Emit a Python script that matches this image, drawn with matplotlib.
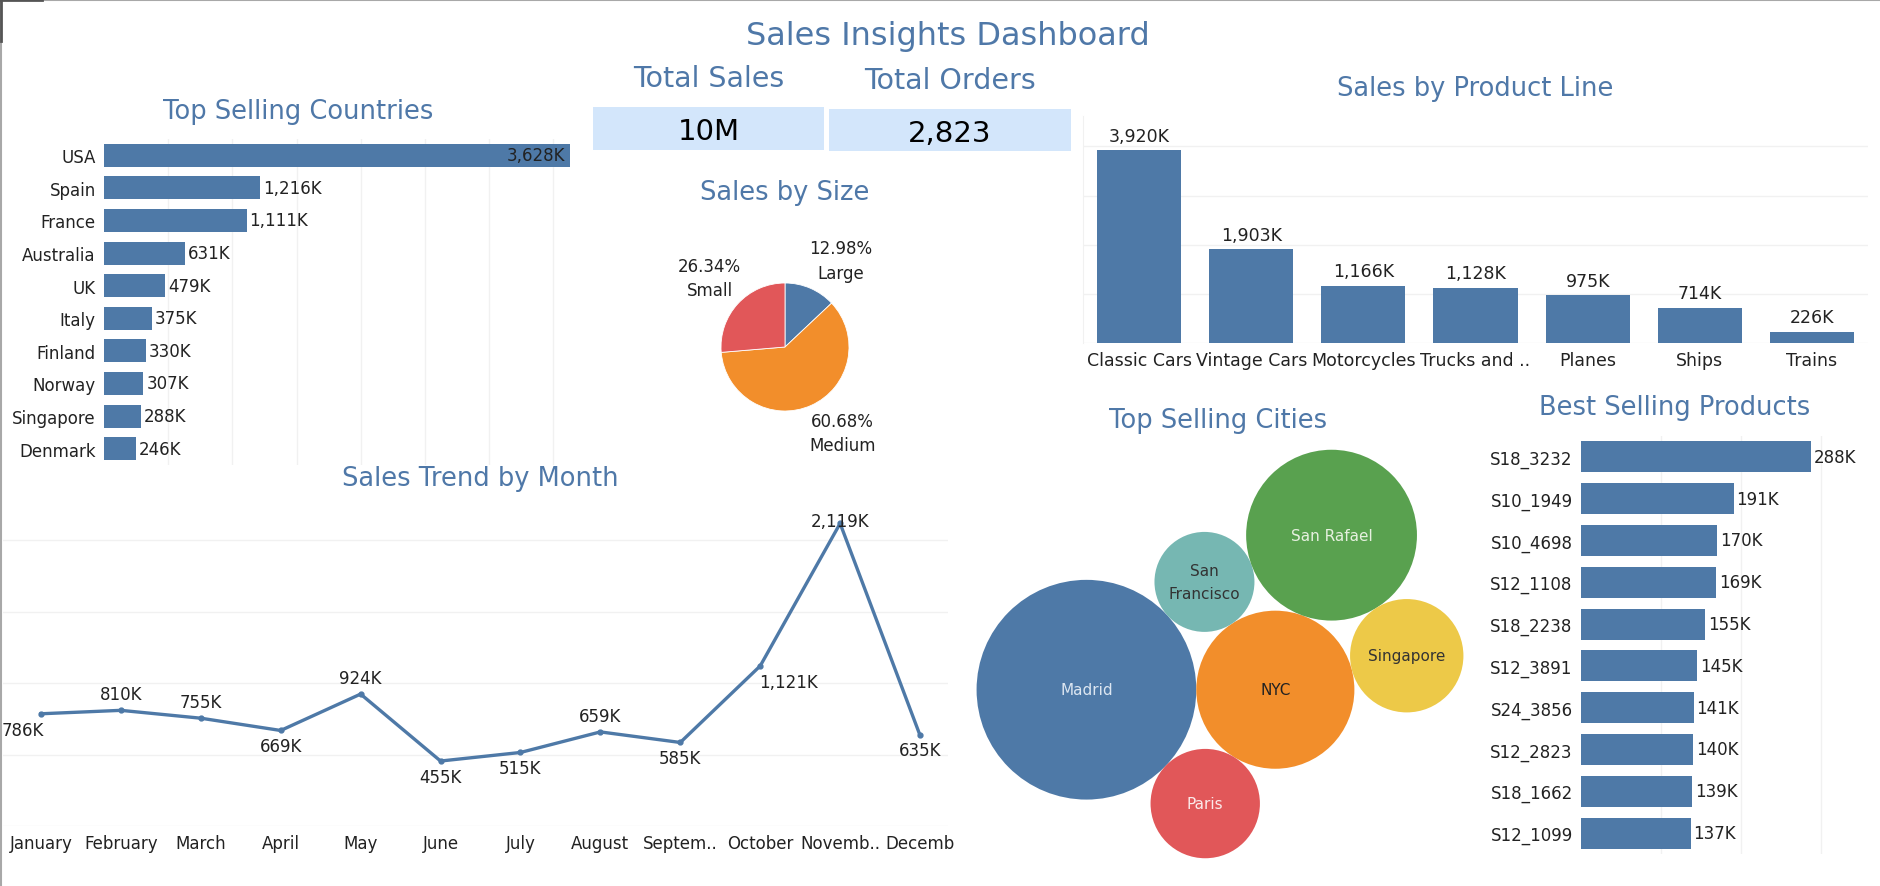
import numpy as np
import matplotlib
matplotlib.use('Agg')
import matplotlib.pyplot as plt
from matplotlib.patches import Circle, Rectangle
from matplotlib.lines import Line2D

# ---- data (sales in K) ----
countries = ['USA', 'Spain', 'France', 'Australia', 'UK', 'Italy',
             'Finland', 'Norway', 'Singapore', 'Denmark']
country_sales = [3628, 1216, 1111, 631, 479, 375, 330, 307, 288, 246]

size_names = ['Large', 'Medium', 'Small']
size_pct = [12.98, 60.68, 26.34]

product_lines = ['Classic Cars', 'Vintage Cars', 'Motorcycles', 'Trucks and ..',
                 'Planes', 'Ships', 'Trains']
product_line_sales = [3920, 1903, 1166, 1128, 975, 714, 226]

months = ['January', 'February', 'March', 'April', 'May', 'June', 'July',
          'August', 'Septem..', 'October', 'Novemb..', 'Decemb']
month_sales = [786, 810, 755, 669, 924, 455, 515, 659, 585, 1121, 2119, 635]

cities = ['Madrid', 'NYC', 'San\nFrancisco', 'San Rafael', 'Singapore', 'Paris']
city_sales = [1082, 560, 224, 654, 288, 268]

products = ['S18_3232', 'S10_1949', 'S10_4698', 'S12_1108', 'S18_2238',
            'S12_3891', 'S24_3856', 'S12_2823', 'S18_1662', 'S12_1099']
product_sales = [288, 191, 170, 169, 155, 145, 141, 140, 139, 137]

total_sales = '10M'
total_orders = 2823

# ---- style ----
W, H = 1881, 887
plt.rcParams['font.family'] = ['DejaVu Sans']
BLUE = '#4e79a7'
TITLE = '#4f78a8'
GRID = '#f1f1f1'
TXT = '#222222'

fig = plt.figure(figsize=(W / 100, H / 100), dpi=100)
fig.patch.set_facecolor('white')


def px_axes(x0, y0, x1, y1):
    # pixel box (top-left origin) -> figure axes
    return fig.add_axes([x0 / W, 1 - y1 / H, (x1 - x0) / W, (y1 - y0) / H])


def fig_text(x, y, s, **kw):
    kw.setdefault('ha', 'center')
    kw.setdefault('va', 'center')
    return fig.text(x / W, 1 - y / H, s, **kw)


def kfmt(v):
    return f"{v:,}K"


def clean(ax):
    for s in ax.spines.values():
        s.set_visible(False)
    ax.tick_params(length=0)


# frame lines at top / left
fig.add_artist(Line2D([0, 1], [1 - 1 / H, 1 - 1 / H], color='#a8a8a8', lw=1.5))
fig.add_artist(Line2D([1 / W, 1 / W], [0, 1], color='#a8a8a8', lw=1.5))
fig.add_artist(Line2D([0, 42 / W], [1 - 1 / H, 1 - 1 / H], color='#555555', lw=2))
fig.add_artist(Line2D([1 / W, 1 / W], [1, 1 - 42 / H], color='#555555', lw=2))

# ---- titles ----
fig_text(948, 37, 'Sales Insights Dashboard', fontsize=23, color=TITLE)
fig_text(298, 112, 'Top Selling Countries', fontsize=18.5, color=TITLE)
fig_text(709, 79, 'Total Sales', fontsize=20.5, color=TITLE)
fig_text(950, 81, 'Total Orders', fontsize=20.5, color=TITLE)
fig_text(785, 193, 'Sales by Size', fontsize=18.5, color=TITLE)
fig_text(1475, 89, 'Sales by Product Line', fontsize=18.5, color=TITLE)
fig_text(480, 479, 'Sales Trend by Month', fontsize=18.5, color=TITLE)
fig_text(1218, 421, 'Top Selling Cities', fontsize=18.5, color=TITLE)
fig_text(1675, 408, 'Best Selling Products', fontsize=18.5, color=TITLE)

# ---- KPI boxes ----
for (x0, y0, x1, y1), val in [((593, 108, 824, 151), total_sales),
                              ((829, 110, 1071, 152), f"{total_orders:,}")]:
    fig.add_artist(Rectangle((x0 / W, 1 - y1 / H), (x1 - x0) / W, (y1 - y0) / H,
                             transform=fig.transFigure, facecolor='#d3e6fb',
                             edgecolor='none'))
    fig_text((x0 + x1) / 2, (y0 + y1) / 2 + 3, val, fontsize=21, color='black')

# ---- Top Selling Countries ----
ax = px_axes(104, 140, 579, 466)
y = np.arange(len(countries))
ax.barh(y, country_sales, height=0.71, color=BLUE, zorder=2)
ax.set_xlim(0, 3700)
ax.set_ylim(len(countries) - 0.5, -0.5)
ax.set_yticks(y)
ax.set_yticklabels(countries, fontsize=12, color=TXT)
ax.set_xticks(np.arange(500, 3700, 500))
ax.xaxis.grid(True, color=GRID, lw=1, zorder=0)
ax.set_xticklabels([])
clean(ax)
ax.tick_params(axis='y', pad=6)
for yi, v in zip(y, country_sales):
    if v > 0.85 * 3700:
        ax.annotate(kfmt(v), (v, yi), xytext=(-3, 0), textcoords='offset points',
                    ha='right', va='center', fontsize=12, color=TXT, zorder=3)
    else:
        ax.annotate(kfmt(v), (v, yi), xytext=(2, 0), textcoords='offset points',
                    ha='left', va='center', fontsize=12, color=TXT)

# ---- Sales by Size (pie) ----
ax = px_axes(705, 268, 865, 428)
labels = [f"{p:.2f}%\n{n}" for p, n in zip(size_pct, size_names)]
wedges, texts = ax.pie(size_pct, labels=labels, startangle=90, counterclock=False,
                       colors=[BLUE, '#f28e2b', '#e15759'], labeldistance=1.6,
                       wedgeprops=dict(linewidth=0.6, edgecolor='white'),
                       textprops=dict(ha='center', va='center', fontsize=12,
                                      color=TXT, linespacing=1.45))
for t in texts:
    tx, ty = t.get_position()
    if abs(tx) < 0.8:  # labels near the vertical get pushed sideways
        t.set_position((tx * 1.38, ty * 0.92))

# ---- Sales by Product Line ----
ax = px_axes(1083, 117, 1868, 344)
x = np.arange(len(product_lines))
ax.bar(x, product_line_sales, width=0.75, color=BLUE, zorder=2)
ax.set_xlim(-0.5, len(product_lines) - 0.5)
ax.set_ylim(0, 4620)
ax.set_yticks(np.arange(0, 4001, 1000))
ax.set_yticklabels([])
ax.yaxis.grid(True, color=GRID, lw=1, zorder=0)
ax.set_xticks(x)
ax.set_xticklabels(product_lines, fontsize=12.5, color=TXT)
clean(ax)
ax.spines['left'].set_visible(True)
ax.spines['left'].set_color(GRID)
ax.tick_params(axis='x', pad=6)
for xi, v in zip(x, product_line_sales):
    ax.annotate(kfmt(v), (xi, v), xytext=(0, 4), textcoords='offset points',
                ha='center', va='bottom', fontsize=12.5, color=TXT)

# ---- Sales Trend by Month ----
ax = px_axes(2.6, 498.6, 948, 827)
x = np.arange(len(months))
ax.plot(x, month_sales, color=BLUE, lw=2.4, marker='o', markersize=3.5,
        zorder=3, clip_on=False)
ax.set_xlim(-0.48, 11.35)
ax.set_ylim(0, 2300)
ax.set_yticks(np.arange(0, 2001, 500))
ax.set_yticklabels([])
ax.yaxis.grid(True, color=GRID, lw=1, zorder=0)
ax.set_xticks(x)
ax.set_xticklabels(months, fontsize=12, color=TXT)
clean(ax)
ax.tick_params(axis='x', pad=5.5)
# label offsets in pixels (dx, dy up)
month_offsets = [(-18, -16), (0, 16), (0, 16), (0, -16), (0, 16), (0, -16),
                 (0, -16), (0, 16), (0, -16), (28, -16), (0, 2), (0, -15)]
for xi, v, (dx, dy) in zip(x, month_sales, month_offsets):
    ax.annotate(kfmt(v), (xi, v), xytext=(dx * 0.72, dy * 0.72),
                textcoords='offset points', ha='center', va='center',
                fontsize=12, color=TXT, zorder=4)

# ---- Top Selling Cities (packed bubbles) ----
ax = px_axes(960, 440, 1480, 870)
radii = np.sqrt(city_sales)
city_colors = [BLUE, '#f28e2b', '#76b7b2', '#59a14f', '#edc948', '#e15759']
city_text = ['#dce6f1', '#222222', '#333333', '#e6f0df', '#333333', '#fbeaea']


def tangent_center(c1, r1, c2, r2, r, side):
    d_vec = c2 - c1
    d = np.hypot(*d_vec)
    a, b = r1 + r, r2 + r
    along = (a * a - b * b + d * d) / (2 * d)
    h = np.sqrt(max(a * a - along * along, 0))
    u = d_vec / d
    perp = np.array([-u[1], u[0]])
    return c1 + along * u + side * h * perp


# (circle, anchor1, anchor2, side)
layout = [(2, 0, 1, 1), (3, 2, 1, 1), (4, 1, 3, -1), (5, 0, 1, -1)]
centers = [None] * len(cities)
centers[0] = np.array([0.0, 0.0])
centers[1] = np.array([radii[0] + radii[1], 0.0])
for i, a1, a2, side in layout:
    centers[i] = tangent_center(centers[a1], radii[a1], centers[a2], radii[a2],
                                radii[i], side)
centers = np.array(centers)
lo = (centers - radii[:, None]).min(axis=0)
hi = (centers + radii[:, None]).max(axis=0)
mid = (lo + hi) / 2
scale = 3.34  # pixels per unit
ax.set_xlim(mid[0] - 260 / scale, mid[0] + 260 / scale)
ax.set_ylim(mid[1] - 215 / scale, mid[1] + 215 / scale)
for c, r, col, name, tc in zip(centers, radii, city_colors, cities, city_text):
    ax.add_patch(Circle(c, r, facecolor=col, edgecolor='none'))
    ax.text(c[0], c[1], name, ha='center', va='center', fontsize=11,
            color=tc, linespacing=1.6)
ax.axis('off')

# ---- Best Selling Products ----
ax = px_axes(1581, 437, 1825, 855)
y = np.arange(len(products))
ax.barh(y, product_sales, height=0.74, color=BLUE, zorder=2)
ax.set_xlim(0, 305)
ax.set_ylim(len(products) - 0.5, -0.5)
ax.set_yticks(y)
ax.set_yticklabels(products, fontsize=12, color=TXT)
ax.set_xticks([100, 200, 300])
ax.set_xticklabels([])
ax.xaxis.grid(True, color=GRID, lw=1, zorder=0)
clean(ax)
ax.tick_params(axis='y', pad=6)
for yi, v in zip(y, product_sales):
    ax.annotate(kfmt(v), (v, yi), xytext=(2, 0), textcoords='offset points',
                ha='left', va='center', fontsize=12, color=TXT,
                annotation_clip=False)

fig.savefig('out.png', dpi=100)
